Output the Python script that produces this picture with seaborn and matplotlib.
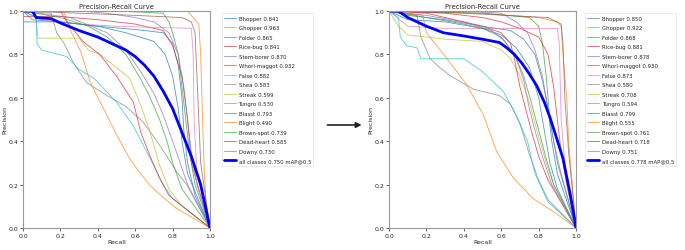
import matplotlib
matplotlib.use("Agg")
import matplotlib.pyplot as plt
import seaborn as sns
import pandas as pd

# class names and AP values read from the two legends
classes = ['Bhopper', 'Ghopper', 'Folder', 'Rice-bug', 'Stem-borer', 'Whorl-maggot', 'False',
           'Shea', 'Streak', 'Tungro', 'Blasst', 'Blight', 'Brown-spot', 'Dead-heart', 'Downy']
ap_before = [0.841, 0.963, 0.865, 0.841, 0.870, 0.932, 0.882, 0.583, 0.599, 0.530,
             0.793, 0.490, 0.739, 0.585, 0.730]
ap_after = [0.850, 0.922, 0.868, 0.881, 0.878, 0.930, 0.873, 0.580, 0.708, 0.594,
            0.799, 0.555, 0.761, 0.718, 0.751]
map_before = 0.750
map_after = 0.778

# --- curves of the first model (recall, precision) ---
bhopper_a = [(0, 1), (0.05, 0.96), (0.2, 0.95), (0.4, 0.93), (0.6, 0.915), (0.75, 0.9), (0.8, 0.85),
             (0.83, 0.75), (0.85, 0.6), (0.86, 0.45), (0.88, 0.3), (0.92, 0.15), (1, 0)]
ghopper_a = [(0, 1), (0.5, 1.0), (0.88, 1.0), (0.92, 0.96), (0.94, 0.94), (0.95, 0.8), (0.96, 0.5),
             (0.97, 0.25), (0.98, 0.1), (1, 0)]
folder_a = [(0, 1), (0.5, 1.0), (0.75, 0.99), (0.78, 0.95), (0.8, 0.9), (0.83, 0.8), (0.85, 0.65),
            (0.87, 0.5), (0.89, 0.35), (0.92, 0.2), (1, 0)]
ricebug_a = [(0, 0.975), (0.2, 0.975), (0.4, 0.96), (0.6, 0.94), (0.75, 0.91), (0.8, 0.84),
             (0.85, 0.7), (0.88, 0.5), (0.9, 0.3), (0.95, 0.15), (1, 0)]
stemborer_a = [(0, 1), (0.3, 1.0), (0.45, 0.99), (0.6, 0.97), (0.7, 0.95), (0.78, 0.9), (0.83, 0.8),
               (0.86, 0.65), (0.88, 0.5), (0.9, 0.35), (0.93, 0.2), (1, 0)]
whorl_a = [(0, 1), (0.3, 0.99), (0.6, 0.98), (0.85, 0.97), (0.9, 0.95), (0.92, 0.9), (0.93, 0.7),
           (0.94, 0.5), (0.95, 0.3), (1, 0)]
false_a = [(0, 1), (0.1, 0.96), (0.3, 0.94), (0.5, 0.93), (0.7, 0.925), (0.9, 0.92), (0.91, 0.8),
           (0.915, 0.5), (0.93, 0.25), (1, 0)]
shea_a = [(0, 1), (0.15, 0.99), (0.18, 0.9), (0.22, 0.85), (0.27, 0.76), (0.34, 0.67), (0.45, 0.61),
          (0.55, 0.56), (0.64, 0.49), (0.7, 0.42), (0.77, 0.33), (0.82, 0.26), (0.875, 0.2), (1, 0)]
streak_a = [(0, 1), (0.07, 0.97), (0.08, 0.875), (0.3, 0.875), (0.35, 0.82), (0.41, 0.8),
            (0.47, 0.76), (0.57, 0.69), (0.63, 0.565), (0.68, 0.44), (0.73, 0.29), (0.78, 0.18),
            (0.85, 0.1), (1, 0)]
tungro_a = [(0, 1), (0.07, 0.97), (0.075, 0.85), (0.1, 0.82), (0.235, 0.79), (0.3, 0.73),
            (0.38, 0.69), (0.5, 0.58), (0.59, 0.47), (0.68, 0.32), (0.75, 0.2), (0.8, 0.135), (1, 0)]
blasst_a = [(0, 0.95), (0.06, 0.95), (0.2, 0.95), (0.4, 0.93), (0.55, 0.9), (0.7, 0.86), (0.76, 0.8),
            (0.8, 0.7), (0.83, 0.55), (0.85, 0.4), (0.88, 0.25), (1, 0)]
blight_a = [(0, 1), (0.2, 1.0), (0.22, 0.99), (0.26, 0.9), (0.31, 0.81), (0.36, 0.67), (0.43, 0.55),
            (0.5, 0.43), (0.57, 0.32), (0.62, 0.26), (0.68, 0.195), (0.75, 0.14), (0.82, 0.09), (1, 0)]
brownspot_a = [(0, 1), (0.2, 0.97), (0.35, 0.93), (0.45, 0.88), (0.55, 0.8), (0.62, 0.7),
               (0.67, 0.62), (0.73, 0.5), (0.77, 0.4), (0.8, 0.3), (0.85, 0.18), (1, 0)]
deadheart_a = [(0, 1), (0.2, 1.0), (0.235, 0.95), (0.32, 0.86), (0.41, 0.8), (0.5, 0.7),
               (0.59, 0.58), (0.63, 0.44), (0.68, 0.33), (0.73, 0.23), (0.78, 0.15), (1, 0)]
downy_a = [(0, 1), (0.25, 0.97), (0.45, 0.9), (0.55, 0.82), (0.63, 0.72), (0.7, 0.62), (0.75, 0.52),
           (0.8, 0.4), (0.84, 0.3), (0.88, 0.2), (1, 0)]
all_a = [(0, 1), (0.05, 1.0), (0.07, 0.97), (0.15, 0.965), (0.2, 0.945), (0.3, 0.91), (0.4, 0.88),
         (0.5, 0.84), (0.55, 0.82), (0.6, 0.79), (0.65, 0.75), (0.7, 0.7), (0.75, 0.63), (0.8, 0.55),
         (0.85, 0.44), (0.9, 0.33), (0.95, 0.2), (1, 0)]

# --- curves of the second model ---
bhopper_b = [(0, 1), (0.1, 0.98), (0.3, 0.96), (0.5, 0.93), (0.65, 0.91), (0.72, 0.87), (0.78, 0.8),
             (0.82, 0.68), (0.85, 0.55), (0.87, 0.4), (0.9, 0.25), (1, 0)]
ghopper_b = [(0, 1), (0.5, 0.99), (0.8, 0.97), (0.9, 0.95), (0.92, 0.93), (0.93, 0.8), (0.95, 0.6),
             (0.96, 0.4), (0.98, 0.2), (1, 0)]
folder_b = [(0, 1), (0.5, 0.99), (0.75, 0.97), (0.8, 0.93), (0.82, 0.85), (0.84, 0.7), (0.86, 0.5),
            (0.9, 0.3), (0.95, 0.15), (1, 0)]
ricebug_b = [(0, 1), (0.3, 0.99), (0.5, 0.97), (0.6, 0.95), (0.7, 0.92), (0.8, 0.88), (0.85, 0.8),
             (0.88, 0.65), (0.9, 0.5), (0.92, 0.35), (0.95, 0.2), (1, 0)]
stemborer_b = [(0, 1), (0.4, 1.0), (0.6, 0.99), (0.68, 0.95), (0.74, 0.9), (0.78, 0.82),
               (0.82, 0.7), (0.85, 0.55), (0.88, 0.4), (0.92, 0.25), (1, 0)]
whorl_b = [(0, 1), (0.4, 0.99), (0.85, 0.97), (0.92, 0.94), (0.93, 0.85), (0.94, 0.6),
           (0.96, 0.35), (1, 0)]
false_b = [(0, 1), (0.1, 0.93), (0.3, 0.92), (0.6, 0.92), (0.9, 0.92), (0.91, 0.85), (0.92, 0.5),
           (0.95, 0.2), (1, 0)]
shea_b = [(0, 1), (0.15, 0.98), (0.17, 0.88), (0.22, 0.78), (0.27, 0.74), (0.33, 0.7), (0.45, 0.64),
          (0.59, 0.61), (0.65, 0.57), (0.7, 0.48), (0.75, 0.34), (0.8, 0.22), (0.85, 0.13), (1, 0)]
streak_b = [(0, 1), (0.05, 0.93), (0.1, 0.89), (0.2, 0.88), (0.3, 0.87), (0.5, 0.86), (0.6, 0.82),
            (0.65, 0.78), (0.7, 0.7), (0.75, 0.58), (0.8, 0.42), (0.84, 0.3), (0.88, 0.2), (1, 0)]
tungro_b = [(0, 1), (0.05, 0.97), (0.06, 0.88), (0.094, 0.84), (0.15, 0.83), (0.17, 0.78),
            (0.4, 0.78), (0.5, 0.72), (0.61, 0.63), (0.68, 0.52), (0.74, 0.4), (0.78, 0.25),
            (0.85, 0.12), (1, 0)]
blasst_b = [(0, 1), (0.1, 0.96), (0.3, 0.95), (0.5, 0.92), (0.6, 0.89), (0.68, 0.83), (0.75, 0.74),
            (0.8, 0.6), (0.83, 0.45), (0.86, 0.3), (0.9, 0.18), (1, 0)]
blight_b = [(0, 1), (0.18, 0.98), (0.2, 0.9), (0.31, 0.78), (0.415, 0.66), (0.505, 0.52),
            (0.576, 0.35), (0.665, 0.23), (0.77, 0.135), (0.88, 0.074), (1, 0)]
brownspot_b = [(0, 1), (0.2, 0.97), (0.4, 0.94), (0.5, 0.92), (0.6, 0.88), (0.67, 0.8), (0.72, 0.7),
               (0.76, 0.58), (0.8, 0.45), (0.84, 0.32), (0.88, 0.2), (1, 0)]
deadheart_b = [(0, 1), (0.2, 0.99), (0.3, 0.97), (0.4, 0.95), (0.5, 0.93), (0.6, 0.9), (0.65, 0.85),
               (0.67, 0.78), (0.7, 0.65), (0.73, 0.55), (0.76, 0.45), (0.8, 0.33), (0.85, 0.22), (1, 0)]
downy_b = [(0, 1), (0.2, 0.98), (0.4, 0.95), (0.55, 0.91), (0.62, 0.86), (0.68, 0.78), (0.72, 0.68),
           (0.75, 0.55), (0.78, 0.45), (0.82, 0.33), (0.87, 0.2), (1, 0)]
all_b = [(0, 1), (0.05, 1.0), (0.1, 0.97), (0.2, 0.93), (0.29, 0.9), (0.4, 0.885), (0.5, 0.87),
         (0.59, 0.855), (0.63, 0.83), (0.67, 0.8), (0.71, 0.76), (0.75, 0.71), (0.79, 0.655),
         (0.83, 0.58), (0.86, 0.51), (0.89, 0.43), (0.93, 0.32), (0.97, 0.15), (1, 0)]

curves_a = [bhopper_a, ghopper_a, folder_a, ricebug_a, stemborer_a, whorl_a, false_a, shea_a,
            streak_a, tungro_a, blasst_a, blight_a, brownspot_a, deadheart_a, downy_a]
curves_b = [bhopper_b, ghopper_b, folder_b, ricebug_b, stemborer_b, whorl_b, false_b, shea_b,
            streak_b, tungro_b, blasst_b, blight_b, brownspot_b, deadheart_b, downy_b]

sns.set_style("ticks")
plt.rcParams['font.family'] = ['DejaVu Sans']

fig = plt.figure(figsize=(6.85, 2.51), dpi=100)
ax1 = fig.add_axes([0.0336, 0.088, 0.273, 0.864])
ax2 = fig.add_axes([0.568, 0.088, 0.273, 0.864])
palette = sns.color_palette("tab10")


def draw(ax, curves, total_curve, aps, total, leg_x):
    for i, (name, pts, ap) in enumerate(zip(classes, curves, aps)):
        df = pd.DataFrame(pts, columns=['Recall', 'Precision'])
        sns.lineplot(data=df, x='Recall', y='Precision', ax=ax, sort=False, estimator=None,
                     color=palette[i % 10], linewidth=0.6, alpha=0.75, label=f'{name} {ap:.3f}')
    df = pd.DataFrame(total_curve, columns=['Recall', 'Precision'])
    sns.lineplot(data=df, x='Recall', y='Precision', ax=ax, sort=False, estimator=None,
                 color='blue', linewidth=2.0, label=f'all classes {total:.3f} mAP@0.5')
    ax.set_xlim(0, 1)
    ax.set_ylim(0, 1)
    ax.set_title('Precision-Recall Curve', fontsize=4.9, pad=2)
    ax.set_xlabel('Recall', fontsize=4.5, labelpad=1)
    ax.set_ylabel('Precision', fontsize=4.5, labelpad=1)
    ax.tick_params(labelsize=4.5, length=2, width=0.5, pad=1.5)
    for s in ax.spines.values():
        s.set_color('#999999')
        s.set_linewidth(0.8)
    leg = ax.legend(loc='upper left', bbox_to_anchor=(leg_x, 0.99), fontsize=3.9,
                    handlelength=2.2, handletextpad=0.4, labelspacing=0.83, borderpad=0.45,
                    borderaxespad=0, frameon=True, fancybox=False, edgecolor='#dddddd')
    leg.get_frame().set_linewidth(0.5)


draw(ax1, curves_a, all_a, ap_before, map_before, 1.064)
draw(ax2, curves_b, all_b, ap_after, map_after, 1.048)

fig.patches.append(matplotlib.patches.FancyArrowPatch(
    (0.474, 0.498), (0.532, 0.498), transform=fig.transFigure,
    arrowstyle='-|>', mutation_scale=8, color='#222222', linewidth=1.2))

fig.savefig('out.png', dpi=100)
